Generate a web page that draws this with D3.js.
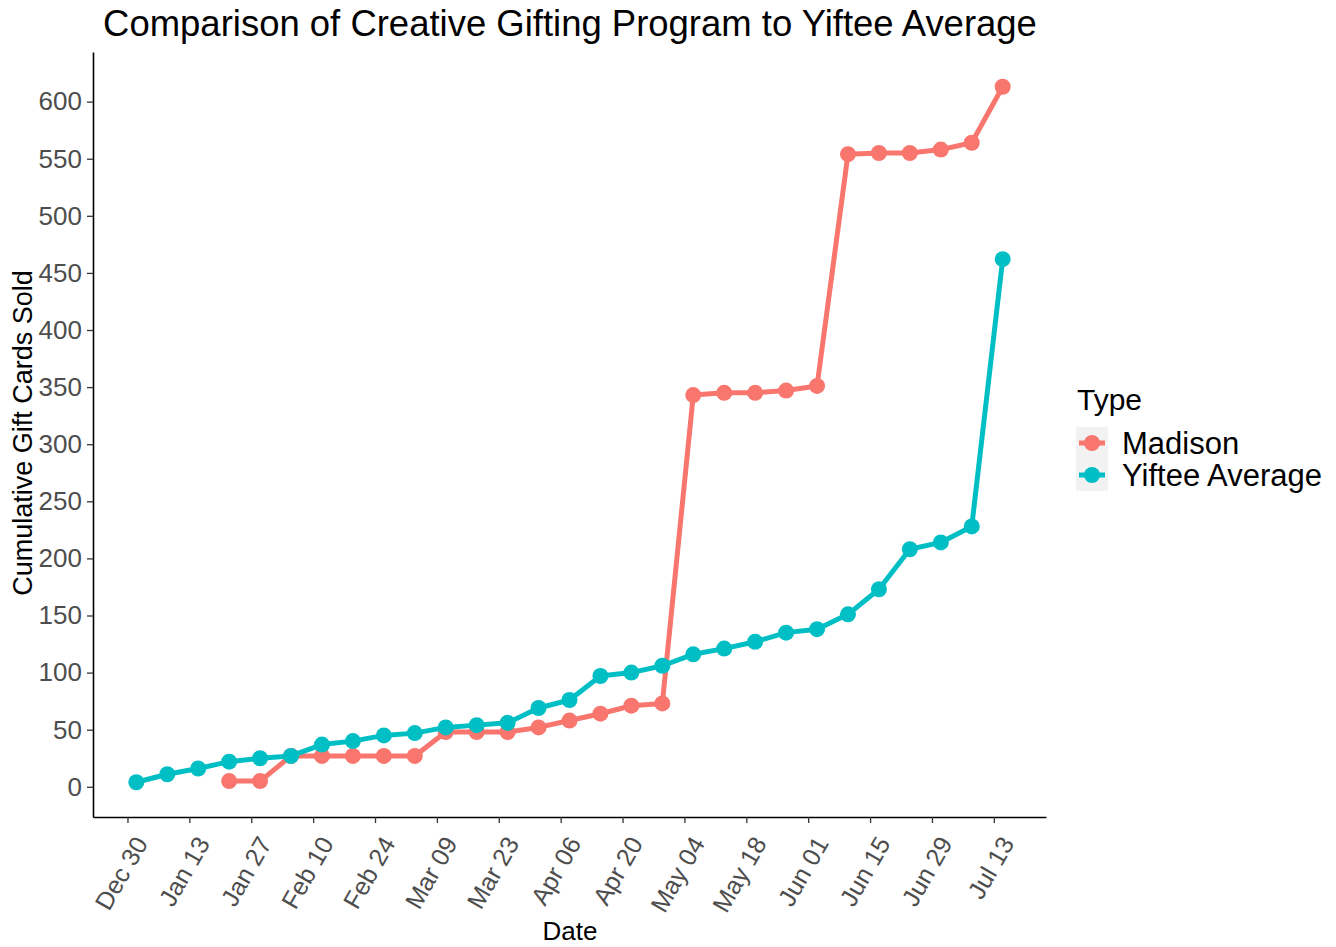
<!DOCTYPE html>
<html>
<head>
<meta charset="utf-8">
<script src="https://cdn.jsdelivr.net/npm/d3@7"></script>
<style>
  body { margin: 0; background: #fff; }
  text { font-family: "Liberation Sans", Arial, sans-serif; }
</style>
</head>
<body>
<svg id="chart" width="1336" height="947"></svg>
<script>
// ---- data ----
const yifteeStart = "2020-01-01";
const yifteeValues = [4, 11, 16, 22, 25, 27, 37, 40, 45, 47, 52, 54, 56, 69, 76, 97, 100, 106, 116, 121, 127, 135, 138, 151, 173, 208, 214, 228, 462];
const madisonStart = "2020-01-22";
const madisonValues = [5, 5, 27, 27, 27, 27, 27, 48, 48, 48, 52, 58, 64, 71, 73, 343, 345, 345, 347, 351, 554, 555, 555, 558, 564, 613];
const seriesNames = ["Madison", "Yiftee Average"];
const seriesColors = ["#F8766D", "#00BFC4"];
const xTickDates = ["2019-12-30", "2020-01-13", "2020-01-27", "2020-02-10", "2020-02-24", "2020-03-09", "2020-03-23", "2020-04-06", "2020-04-20", "2020-05-04", "2020-05-18", "2020-06-01", "2020-06-15", "2020-06-29", "2020-07-13"];
const yTicks = [0, 50, 100, 150, 200, 250, 300, 350, 400, 450, 500, 550, 600];

const parse = d3.utcParse("%Y-%m-%d");
function weekly(start, values) {
  const s = parse(start);
  return values.map((v, i) => ({ date: d3.utcDay.offset(s, 7 * i), value: v }));
}
const series = [
  { name: seriesNames[0], color: seriesColors[0], data: weekly(madisonStart, madisonValues) },
  { name: seriesNames[1], color: seriesColors[1], data: weekly(yifteeStart, yifteeValues) }
];

const svg = d3.select("#chart");
const panel = { left: 93, right: 1046, top: 52, bottom: 817 };

const all = series.flatMap(s => s.data);
const xExt = d3.extent(all, d => d.date);
const xPad = (xExt[1] - xExt[0]) * 0.05;
const x = d3.scaleUtc()
  .domain([new Date(+xExt[0] - xPad), new Date(+xExt[1] + xPad)])
  .range([panel.left, panel.right]);
const yExt = d3.extent(all, d => d.value);
const yPad = (yExt[1] - yExt[0]) * 0.05;
const y = d3.scaleLinear()
  .domain([yExt[0] - yPad, yExt[1] + yPad])
  .range([panel.bottom, panel.top]);

// axes
const fmt = d3.utcFormat("%b %d");
const xAxis = svg.append("g")
  .attr("transform", `translate(0,${panel.bottom})`)
  .call(d3.axisBottom(x).tickValues(xTickDates.map(parse)).tickFormat(fmt).tickSize(6).tickSizeOuter(0).tickPadding(4));
xAxis.select(".domain").attr("stroke", "#000").attr("stroke-width", 1.6);
xAxis.selectAll(".tick line").attr("stroke", "#333").attr("stroke-width", 1.3);
xAxis.selectAll(".tick text")
  .attr("fill", "#4d4d4d")
  .style("font-size", "25px")
  .attr("text-anchor", "end")
  .attr("dy", null)
  .attr("transform", "translate(15,23) rotate(-60)")
  .attr("x", 0).attr("y", 0)
  .attr("dominant-baseline", "middle");

const yAxis = svg.append("g")
  .attr("transform", `translate(${panel.left},0)`)
  .call(d3.axisLeft(y).tickValues(yTicks).tickSize(6).tickSizeOuter(0).tickPadding(5));
yAxis.select(".domain").attr("stroke", "#000").attr("stroke-width", 1.6);
yAxis.selectAll(".tick line").attr("stroke", "#333").attr("stroke-width", 1.3);
yAxis.selectAll(".tick text").attr("fill", "#4d4d4d").style("font-size", "26px");

// lines and points
const line = d3.line().x(d => x(d.date)).y(d => y(d.value));
series.forEach(s => {
  svg.append("path")
    .datum(s.data)
    .attr("fill", "none")
    .attr("stroke", s.color)
    .attr("stroke-width", 5)
    .attr("stroke-linejoin", "round")
    .attr("d", line);
  svg.append("g").selectAll("circle")
    .data(s.data).join("circle")
    .attr("cx", d => x(d.date))
    .attr("cy", d => y(d.value))
    .attr("r", 8)
    .attr("fill", s.color);
});

// titles
const title = svg.append("text")
  .attr("x", 570).attr("y", 36)
  .attr("text-anchor", "middle")
  .style("font-size", "33px")
  .attr("fill", "#000")
  .text("Comparison of Creative Gifting Program to Yiftee Average");
const tw = title.node().getComputedTextLength();
if (tw > 0) title.style("font-size", (33 * 934 / tw) + "px");

svg.append("text")
  .attr("x", 570).attr("y", 940)
  .attr("text-anchor", "middle")
  .style("font-size", "26px")
  .attr("fill", "#000")
  .text("Date");

svg.append("text")
  .attr("transform", `translate(32,433) rotate(-90)`)
  .attr("text-anchor", "middle")
  .style("font-size", "27px")
  .attr("fill", "#000")
  .text("Cumulative Gift Cards Sold");

// legend
const lg = svg.append("g");
lg.append("text").attr("x", 1077).attr("y", 410).style("font-size", "30px").attr("fill", "#000").text("Type");
series.forEach((s, i) => {
  const cy = 443 + i * 32;
  lg.append("rect").attr("x", 1076).attr("y", cy - 16).attr("width", 32).attr("height", 32).attr("fill", "#f2f2f2");
  lg.append("line").attr("x1", 1079).attr("x2", 1105).attr("y1", cy).attr("y2", cy).attr("stroke", s.color).attr("stroke-width", 5);
  lg.append("circle").attr("cx", 1092).attr("cy", cy).attr("r", 8).attr("fill", s.color);
  lg.append("text").attr("x", 1122).attr("y", cy + 11).style("font-size", "31px").attr("fill", "#000").text(s.name);
});
</script>
</body>
</html>
